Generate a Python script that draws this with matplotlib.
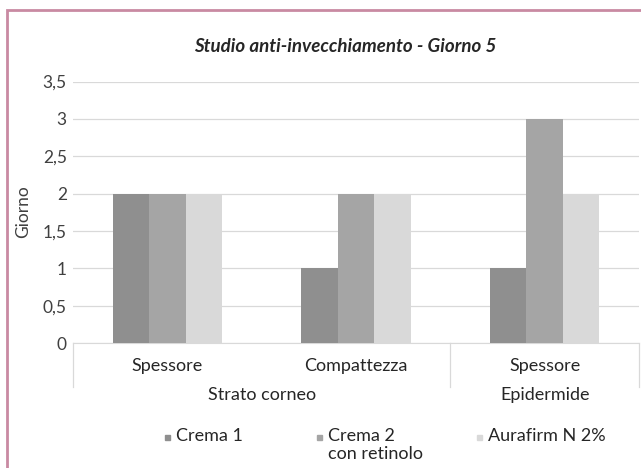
import numpy as np
import matplotlib
matplotlib.use('Agg')
import matplotlib.pyplot as plt
from matplotlib.lines import Line2D
from matplotlib.patches import Rectangle

plt.rcParams['font.family'] = ['Lato', 'DejaVu Sans']

# data
categories = ['Spessore', 'Compattezza', 'Spessore']
groups = ['Strato corneo', 'Epidermide']
group_span = [(0, 1), (2, 2)]   # category index range for each group
series = ['Crema 1', 'Crema 2\ncon retinolo', 'Aurafirm N 2%']
values = [
    [2, 1, 1],
    [2, 2, 3],
    [2, 2, 2],
]
colors = ['#8f8f8f', '#a5a5a5', '#d9d9d9']
yticks = [0, 0.5, 1, 1.5, 2, 2.5, 3, 3.5]

fig = plt.figure(figsize=(6.41, 4.68), dpi=100)
ax = fig.add_axes([73/641, 1-343/468, 566/641, (343-81.5)/468])

x = np.arange(len(categories))
bw = 0.193
for i, (vals, c) in enumerate(zip(values, colors)):
    ax.bar(x + (i-1)*bw, vals, width=bw, color=c, zorder=3)

ax.set_xlim(-0.5, len(categories)-0.5)
ax.set_ylim(0, 3.5)
ax.set_yticks(yticks)
ax.set_yticklabels([f"{t:g}".replace('.', ',') for t in yticks], fontsize=12.5, color='#404040')
ax.grid(axis='y', color='#d9d9d9', linewidth=0.9, zorder=0)
ax.tick_params(axis='y', length=0, pad=4.5)
ax.tick_params(axis='x', length=0)
ax.set_xticks([])
for s in ['top', 'right', 'left']:
    ax.spines[s].set_visible(False)
ax.spines['bottom'].set_color('#d9d9d9')
fig.text(23/641, 1-212/468, 'Giorno', rotation=90, ha='center', va='center',
         fontsize=12.5, color='#404040')

# multi-level category labels
tr = ax.get_xaxis_transform()
for i, c in enumerate(categories):
    ax.text(i, -0.058, c, transform=tr, ha='center', va='top', fontsize=13, color='#262626')
for g, (a, b) in zip(groups, group_span):
    ax.text((a+b)/2, -0.168, g, transform=tr, ha='center', va='top', fontsize=13, color='#262626')
# separator lines
for xs in [-0.5, 1.5, 2.5]:
    ax.add_line(Line2D([xs, xs], [0, -0.17], transform=tr, color='#d9d9d9', linewidth=0.9, clip_on=False))

# legend
leg_x = [165/641, 317/641, 477/641]
for lx, s, c in zip(leg_x, series, colors):
    fig.patches.append(Rectangle((lx, 1-440/468), 5/641, 5/468, transform=fig.transFigure, color=c))
    fig.text(lx + 11/641, 1-428/468, s, ha='left', va='top', fontsize=13, color='#262626', linespacing=1.15)

fig.text(345/641, 1-46/468, 'Studio anti-invecchiamento - Giorno 5', ha='center', va='center',
         fontsize=13.5, fontweight='bold', fontstyle='italic', color='#262626')

# outer border
fig.patches.append(Rectangle((7/641, -0.05), 1.1, 1-10/468+0.05, transform=fig.transFigure,
                             fill=False, edgecolor='#c98aa2', linewidth=2))

fig.savefig('out.png', dpi=100)
